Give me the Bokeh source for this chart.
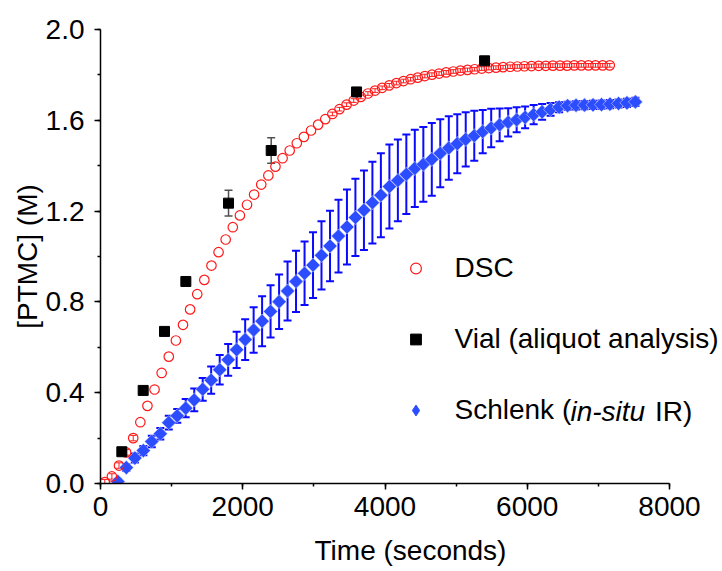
import math
from bokeh.plotting import figure
from bokeh.models import (ColumnDataSource, Range1d, SingleIntervalTicker, Whisker, TeeHead,
                          Legend, LegendItem, Label, PrintfTickFormatter)
from bokeh.embed import file_html
from bokeh.resources import INLINE

# ---------------- data ----------------
dsc_time = list(range(60, 7200, 100))
dsc_conc = [0.006, 0.031, 0.079, 0.137, 0.200, 0.270, 0.342, 0.414, 0.487, 0.559,
            0.630, 0.699, 0.767, 0.834, 0.897, 0.960, 1.019, 1.075, 1.129, 1.181,
            1.228, 1.273, 1.317, 1.357, 1.396, 1.433, 1.467, 1.499, 1.527, 1.555,
            1.581, 1.605, 1.628, 1.649, 1.669, 1.687, 1.703, 1.718, 1.731, 1.743,
            1.754, 1.764, 1.773, 1.781, 1.788, 1.795, 1.801, 1.806, 1.811, 1.815,
            1.819, 1.822, 1.825, 1.828, 1.830, 1.832, 1.834, 1.836, 1.837, 1.838,
            1.839, 1.840, 1.840, 1.841, 1.841, 1.841, 1.842, 1.842, 1.842, 1.842,
            1.842, 1.842]
dsc_err = [0.012, 0.012, 0.012, 0.012, 0.012, 0, 0, 0, 0, 0,
           0, 0, 0, 0, 0, 0, 0, 0, 0, 0,
           0, 0, 0, 0, 0, 0, 0, 0, 0, 0,
           0, 0, 0.008, 0.008, 0.008, 0.008, 0.008, 0.008, 0.008, 0.008,
           0.008, 0.008, 0.008, 0.008, 0.008, 0.008, 0.008, 0.008, 0.008, 0.008,
           0.008, 0.008, 0.008, 0.008, 0.008, 0.008, 0.008, 0.008, 0.008, 0.008,
           0.008, 0.008, 0.008, 0.008, 0.008, 0.008, 0.008, 0.008, 0.008, 0.008,
           0.008, 0.008]

vial_time = [300, 600, 900, 1200, 1800, 2400, 3600, 5400]
vial_conc = [0.140, 0.410, 0.670, 0.890, 1.235, 1.467, 1.725, 1.862]
vial_err = [0.010, 0.012, 0.012, 0.012, 0.057, 0.056, 0.010, 0.010]

schlenk_time = [244, 363, 483, 602, 721, 841, 960, 1079, 1198, 1318,
                1437, 1556, 1676, 1795, 1914, 2034, 2153, 2272, 2391, 2511,
                2630, 2749, 2869, 2988, 3107, 3227, 3346, 3465, 3584, 3704,
                3823, 3942, 4062, 4181, 4300, 4419, 4539, 4658, 4777, 4897,
                5016, 5135, 5255, 5374, 5493, 5612, 5732, 5851, 5970, 6090,
                6209, 6328, 6448, 6567, 6686, 6805, 6925, 7044, 7163, 7283,
                7402, 7521]
schlenk_conc = [0.009, 0.070, 0.112, 0.145, 0.185, 0.219, 0.268, 0.298, 0.332, 0.368,
                0.415, 0.455, 0.501, 0.545, 0.589, 0.634, 0.676, 0.715, 0.758, 0.801,
                0.848, 0.890, 0.926, 0.962, 1.005, 1.046, 1.090, 1.130, 1.172, 1.204,
                1.237, 1.270, 1.308, 1.335, 1.362, 1.388, 1.406, 1.428, 1.455, 1.478,
                1.497, 1.516, 1.532, 1.550, 1.566, 1.580, 1.591, 1.602, 1.613, 1.625,
                1.637, 1.648, 1.658, 1.664, 1.666, 1.667, 1.668, 1.669, 1.671, 1.674,
                1.677, 1.681]
schlenk_err = [0.010, 0.015, 0.020, 0.020, 0.025, 0.025, 0.030, 0.030, 0.040, 0.050,
               0.050, 0.060, 0.065, 0.070, 0.080, 0.090, 0.100, 0.110, 0.115, 0.120,
               0.130, 0.135, 0.140, 0.145, 0.150, 0.155, 0.160, 0.165, 0.170, 0.175,
               0.180, 0.185, 0.185, 0.180, 0.175, 0.170, 0.165, 0.160, 0.150, 0.140,
               0.130, 0.120, 0.110, 0.095, 0.085, 0.072, 0.062, 0.055, 0.048, 0.042,
               0.035, 0.028, 0.022, 0.018, 0.018, 0.018, 0.018, 0.018, 0.018, 0.018,
               0.018, 0.018]

x_ticks_interval = 2000
y_ticks_interval = 0.4
x_label = "Time (seconds)"
y_label = "[PTMC] (M)"
series_labels = ["DSC", "Vial (aliquot analysis)", "Schlenk ("]

FONT = "Liberation Sans"
FS = "28px"
RED = "#ff1a1a"
BLUE_BAR = "#0a0aff"
BLUE_FILL = "#2b4cff"

# ---------------- figure ----------------
# frame spans the canvas to the right edge; the x axis itself stops at 8000
p = figure(width=722, height=571, output_backend="svg", toolbar_location=None,
           x_range=Range1d(0, 8717), y_range=Range1d(0, 2.0),
           min_border_left=100, min_border_right=2, min_border_top=29, min_border_bottom=88)
p.outline_line_color = None
p.xgrid.visible = False
p.ygrid.visible = False
p.background_fill_color = "white"
p.border_fill_color = "white"
# a range far above the data: used only to give the legend a diamond glyph
p.extra_y_ranges = {"legend_only": Range1d(10, 12)}

p.xaxis.ticker = SingleIntervalTicker(interval=x_ticks_interval, num_minor_ticks=2)
p.yaxis.ticker = SingleIntervalTicker(interval=y_ticks_interval, num_minor_ticks=2)
p.xaxis.bounds = (0, 8000)
p.yaxis.formatter = PrintfTickFormatter(format="%.1f")
p.xaxis.axis_label = x_label
p.yaxis.axis_label = y_label
for ax in (p.xaxis[0], p.yaxis[0]):
    ax.axis_line_width = 1.5
    ax.axis_line_color = "black"
    ax.major_tick_line_width = 1.5
    ax.minor_tick_line_width = 1.5
    ax.major_tick_line_color = "black"
    ax.minor_tick_line_color = "black"
    ax.major_tick_out = 6
    ax.major_tick_in = 0
    ax.minor_tick_out = 3
    ax.minor_tick_in = 0
    ax.major_label_text_font = FONT
    ax.major_label_text_font_size = FS
    ax.major_label_text_color = "black"
    ax.axis_label_text_font = FONT
    ax.axis_label_text_font_size = FS
    ax.axis_label_text_font_style = "normal"
    ax.axis_label_text_color = "black"
p.xaxis.major_label_standoff = 7
p.yaxis.major_label_standoff = 10
p.xaxis.axis_label_standoff = 16
p.yaxis.axis_label_standoff = 0

# ---------------- Schlenk ----------------
s_src = ColumnDataSource(dict(
    t=schlenk_time, c=schlenk_conc,
    lo=[c - e for c, e in zip(schlenk_conc, schlenk_err)],
    hi=[c + e for c, e in zip(schlenk_conc, schlenk_err)]))
p.add_layout(Whisker(base="t", lower="lo", upper="hi", source=s_src, level="underlay",
                     line_color=BLUE_BAR, line_width=2,
                     upper_head=TeeHead(size=8, line_color=BLUE_BAR, line_width=2),
                     lower_head=TeeHead(size=8, line_color=BLUE_BAR, line_width=2)))
r_sch = p.scatter("t", "c", source=s_src, marker="square", angle=math.pi / 4, size=10,
                  fill_color=BLUE_FILL, line_color="#c9d2ff", line_width=0.6)
# legend-only renderer: same data on an off-screen range, drawn as diamonds in the legend
r_sch_leg = p.scatter("t", "c", source=s_src, y_range_name="legend_only",
                      marker="diamond", size=10, fill_color=BLUE_FILL, line_color=BLUE_FILL)

# ---------------- DSC ----------------
dsc_idx = [i for i, e in enumerate(dsc_err) if e > 0]
d_err_src = ColumnDataSource(dict(
    t=[dsc_time[i] for i in dsc_idx],
    lo=[dsc_conc[i] - dsc_err[i] for i in dsc_idx],
    hi=[dsc_conc[i] + dsc_err[i] for i in dsc_idx]))
p.add_layout(Whisker(base="t", lower="lo", upper="hi", source=d_err_src, level="underlay",
                     line_color=RED, line_width=1,
                     upper_head=TeeHead(size=6, line_color=RED, line_width=1),
                     lower_head=TeeHead(size=6, line_color=RED, line_width=1)))
d_src = ColumnDataSource(dict(t=dsc_time, c=dsc_conc))
r_dsc = p.scatter("t", "c", source=d_src, marker="circle", size=9.5,
                  fill_color=None, line_color=RED, line_width=1.2)

# ---------------- Vial ----------------
v_src = ColumnDataSource(dict(
    t=vial_time, c=vial_conc,
    lo=[c - e for c, e in zip(vial_conc, vial_err)],
    hi=[c + e for c, e in zip(vial_conc, vial_err)]))
p.add_layout(Whisker(base="t", lower="lo", upper="hi", source=v_src, level="underlay",
                     line_color="#505050", line_width=1.5,
                     upper_head=TeeHead(size=8, line_color="#505050", line_width=1.5),
                     lower_head=TeeHead(size=8, line_color="#505050", line_width=1.5)))
r_vial = p.scatter("t", "c", source=v_src, marker="square", size=10,
                   fill_color="black", line_color="black")

# ---------------- legend ----------------
legend = Legend(items=[LegendItem(label=series_labels[0], renderers=[r_dsc]),
                       LegendItem(label=series_labels[1], renderers=[r_vial]),
                       LegendItem(label=series_labels[2], renderers=[r_sch_leg])],
                location=(301.5, 57), orientation="vertical",
                glyph_width=27, glyph_height=30, label_height=30, spacing=39,
                label_standoff=26, padding=0, margin=0,
                border_line_color=None, background_fill_alpha=0,
                label_text_font=FONT, label_text_font_size=FS, label_text_color="black")
p.add_layout(legend)

p.add_layout(Label(x=470, y=72, x_units="screen", y_units="screen", text="in-situ",
                   text_font=FONT, text_font_size=FS, text_font_style="italic",
                   text_baseline="middle", text_color="black"))
p.add_layout(Label(x=554.5, y=72, x_units="screen", y_units="screen", text="IR)",
                   text_font=FONT, text_font_size=FS,
                   text_baseline="middle", text_color="black"))

open("out.html", "w").write(file_html(p, INLINE))
